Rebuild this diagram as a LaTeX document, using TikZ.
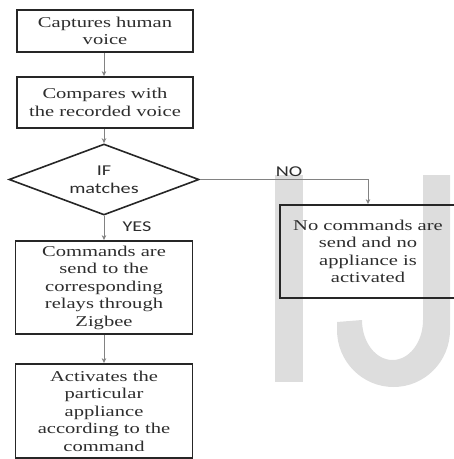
\documentclass[tikz,border=0pt]{standalone}
\usepackage{fontspec}
\setmainfont[FakeStretch=1.37]{Liberation Serif}
\newfontfamily\labelfont[FakeStretch=1.35]{Carlito}
\usetikzlibrary{shapes.geometric,arrows.meta}
\definecolor{wm}{RGB}{221,221,221}
\definecolor{boxc}{RGB}{38,38,38}
\definecolor{linec}{RGB}{130,130,130}
\definecolor{txt}{RGB}{45,45,45}
\begin{document}
\begin{tikzpicture}[x=1pt,y=1pt,
  box/.style={draw=boxc, line width=1.8pt, align=center, text=txt,
    font=\fontsize{15}{17.5}\selectfont, inner sep=0pt},
  decision/.style={draw=boxc, line width=1.6pt, diamond, align=center, text=txt,
    font=\labelfont\fontsize{15}{18}\selectfont, inner sep=0pt,
    minimum width=190pt, minimum height=71pt, aspect=2.68},
  conn/.style={draw=linec, line width=1pt, -{Stealth[length=5pt,width=4.5pt]}},
  lbl/.style={font=\labelfont\fontsize{15}{18}\selectfont, text=txt, inner sep=0pt}]
\useasboundingbox (0,0) rectangle (454,-459);
\clip (0,0) rectangle (454,-459);
% watermark
\fill[wm] (275,-175) rectangle (303,-382);
\fill[wm] (423,-175) -- (450,-175) -- (450,-330)
  arc[start angle=0,end angle=-180,x radius=56.5,y radius=57]
  -- (337,-322) -- (362,-320)
  arc[start angle=180,end angle=360,x radius=30.5,y radius=40] -- cycle;
% nodes
\node[box, minimum width=176pt, minimum height=42pt] (b1) at (105,-31) {Captures human\\voice};
\node[box, minimum width=176pt, minimum height=51pt] (b2) at (105,-102.5) {Compares with\\the recorded voice};
\node[decision] (dec) at (104,-179.5) {IF\\matches};
\node[box, minimum width=177pt, minimum height=93pt] (b3) at (104,-287.5) {Commands are\\send to the\\corresponding\\relays through\\Zigbee};
\node[box, minimum width=177pt, minimum height=94pt] (b4) at (104,-411) {Activates the\\particular\\appliance\\according to the\\command};
\node[box, minimum width=176pt, minimum height=93pt] (b5) at (368,-251.5) {No commands are\\send and no\\appliance is\\activated};
\node[lbl] (yes) at (137,-227) {YES};
\node[lbl] (no) at (289,-172) {NO};
% connectors
\draw[conn] (b1.south -| dec.north) -- (b2.north -| dec.north);
\draw[conn] (b2.south -| dec.north) -- (dec.north);
\draw[conn] (dec.south) -- (b3.north);
\draw[conn] (b3.south) -- (b4.north);
\draw[conn] (dec.east) -| (b5.north);
\end{tikzpicture}
\end{document}
